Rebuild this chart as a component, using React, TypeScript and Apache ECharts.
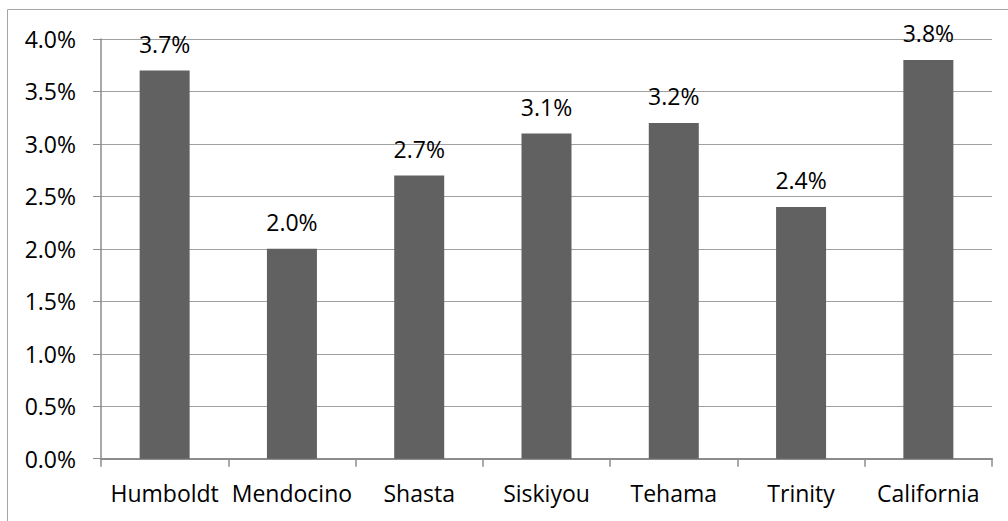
import React, { useEffect, useRef } from "react";
import * as echarts from "echarts";

const categories = ["Humboldt", "Mendocino", "Shasta", "Siskiyou", "Tehama", "Trinity", "California"];
const values = [3.7, 2.0, 2.7, 3.1, 3.2, 2.4, 3.8];
const yMin = 0;
const yMax = 4;
const yInterval = 0.5;

const FONT = "'Open Sans', sans-serif";

export default function App() {
  const ref = useRef<HTMLDivElement>(null);
  useEffect(() => {
    if (!ref.current) return;
    const chart = echarts.init(ref.current, null, { renderer: "svg" });
    chart.setOption({
      animation: false,
      backgroundColor: "#ffffff",
      textStyle: { fontFamily: FONT },
      graphic: [
        {
          type: "rect",
          shape: { x: 7.5, y: 9.5, width: 1100, height: 600 },
          style: { fill: "none", stroke: "#a6a6a6", lineWidth: 1 },
          silent: true,
        },
      ],
      grid: { left: 101, right: 16, top: 39, bottom: 62.3, containLabel: false },
      xAxis: {
        type: "category",
        data: categories,
        axisLine: { show: true, lineStyle: { color: "#8c8c8c", width: 2 } },
        axisTick: { show: true, length: 8, lineStyle: { color: "#8c8c8c", width: 1.5 } },
        axisLabel: { color: "#000", fontSize: 23, fontFamily: FONT, margin: 23, interval: 0 },
      },
      yAxis: {
        type: "value",
        min: yMin,
        max: yMax,
        interval: yInterval,
        axisLine: { show: true, lineStyle: { color: "#8c8c8c", width: 1.5 } },
        axisTick: { show: true, length: 8, lineStyle: { color: "#8c8c8c", width: 1 } },
        splitLine: { show: true, lineStyle: { color: "#a0a0a0", width: 1 } },
        axisLabel: {
          color: "#000",
          fontSize: 23,
          fontFamily: FONT,
          margin: 25,
          formatter: (v: number) => v.toFixed(1) + "%",
        },
      },
      series: [
        {
          type: "bar",
          data: values,
          barWidth: 50,
          itemStyle: { color: "#616161" },
          label: {
            show: true,
            position: "top",
            distance: 15,
            color: "#000",
            fontSize: 23,
            fontFamily: FONT,
            formatter: (p: any) => p.value.toFixed(1) + "%",
          },
        },
      ],
    });
    return () => chart.dispose();
  }, []);
  return (
    <div
      ref={ref}
      style={{ position: "absolute", left: 0, top: 0, width: 1008, height: 521 }}
    />
  );
}
